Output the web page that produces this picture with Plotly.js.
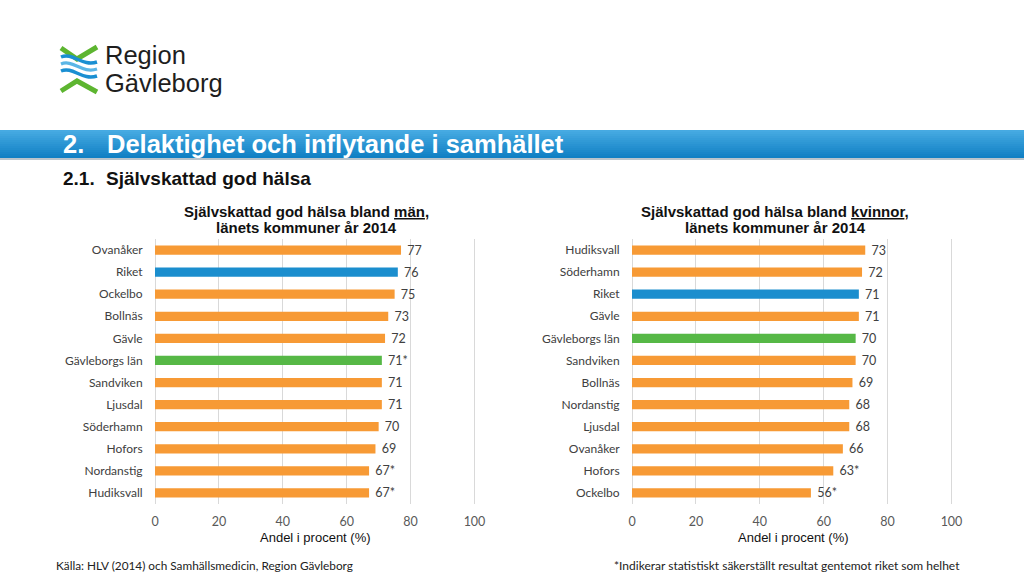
<!DOCTYPE html>
<html><head><meta charset="utf-8">
<script src="https://cdn.plot.ly/plotly-3.0.1.min.js"></script>
<style>html,body{margin:0;padding:0;background:#fff}#chart{width:1024px;height:576px}</style>
</head><body><div id="chart"></div>
<script>
// ---- data ----
const menCategories = ["Ovanåker","Riket","Ockelbo","Bollnäs","Gävle","Gävleborgs län","Sandviken","Ljusdal","Söderhamn","Hofors","Nordanstig","Hudiksvall"];
const menValues = [77,76,75,73,72,71,71,71,70,69,67,67];
const menLabels = ["77","76","75","73","72","71*","71","71","70","69","67*","67*"];

const womenCategories = ["Hudiksvall","Söderhamn","Riket","Gävle","Gävleborgs län","Sandviken","Bollnäs","Nordanstig","Ljusdal","Ovanåker","Hofors","Ockelbo"];
const womenValues = [73,72,71,71,70,70,69,68,68,66,63,56];
const womenLabels = ["73","72","71","71","70","70","69","68","68","66","63*","56*"];

const xTickStep = 20;

// ---- styling ----
const ORANGE = "#F79A35", BLUE = "#1B8ECE", GREEN = "#56B846";
function barColor(c){ return c === "Riket" ? BLUE : (c === "Gävleborgs län" ? GREEN : ORANGE); }
const W = 1024, H = 576;
const px = x => x / W, py = y => 1 - y / H;

const labelFont = {family: "Lato, 'Open Sans', sans-serif", size: 12.5, color: "#404040"};

function barTrace(cats, vals, labels, xa, ya){
  return {
    type: "bar", orientation: "h", y: cats, x: vals, text: labels,
    texttemplate: "\u00a0%{text}",
    textposition: "outside", cliponaxis: false, constraintext: "none",
    textfont: labelFont,
    marker: {color: cats.map(barColor)},
    xaxis: xa, yaxis: ya, hoverinfo: "skip"
  };
}

const traces = [
  barTrace(menCategories, menValues, menLabels, "x", "y"),
  barTrace(womenCategories, womenValues, womenLabels, "x2", "y2")
];

const PXU = 3.195; // pixels per unit
const XMAX = 103;
function xAxis(x0){
  return {domain: [px(x0), px(x0 + PXU*XMAX)], range: [0, XMAX], tickmode: "linear", tick0: 0, dtick: xTickStep,
    showgrid: true, gridcolor: "#D9D9D9", gridwidth: 1,
    zeroline: true, zerolinecolor: "#D9D9D9", zerolinewidth: 1, showline: false,
    ticks: "outside", ticklen: 6, tickcolor: "rgba(0,0,0,0)",
    tickfont: {family: "Lato, 'Open Sans', sans-serif", size: 12.5, color: "#595959"}, fixedrange: true};
}
function yAxis(d, anchor){
  return {domain: d, anchor: anchor, type: "category", autorange: "reversed", showgrid: false, zeroline: false, showline: false,
    ticks: "outside", ticklen: 9, tickcolor: "rgba(0,0,0,0)", tickfont: {family: "Lato, 'Open Sans', sans-serif", size: 12, color: "#404040"}, fixedrange: true};
}

const yDom = [py(504), py(239)];

// header gradient bands
const shapes = [];
const bandTop = 130, bandBot = 158;
const c1 = [70,170,226], c2 = [16,128,196];
const steps = 14;
for (let i = 0; i < steps; i++){
  const t = i/(steps-1);
  const c = c1.map((v,k)=>Math.round(v + (c2[k]-v)*t));
  const y0 = bandTop + (bandBot-bandTop)*i/steps, y1 = bandTop + (bandBot-bandTop)*(i+1)/steps + 0.5;
  shapes.push({type:"rect", xref:"paper", yref:"paper", x0:0, x1:1, y0:py(y1), y1:py(y0), line:{width:0}, fillcolor:`rgb(${c.join(",")})`, layer:"below"});
}
shapes.push({type:"rect", xref:"paper", yref:"paper", x0:0, x1:1, y0:py(160), y1:py(158), line:{width:0}, fillcolor:"#B8C4CC", layer:"below"});

// logo symbol
function pathFrom(pts, closed){
  return pts.map((p,i)=>(i?"L":"M")+px(p[0]).toFixed(5)+","+py(p[1]).toFixed(5)).join(" ") + (closed?" Z":"");
}
function curve(pts){
  let s = "M"+px(pts[0][0]).toFixed(5)+","+py(pts[0][1]).toFixed(5);
  for (let i=1;i<pts.length;i+=3){
    s += " C"+[pts[i],pts[i+1],pts[i+2]].map(p=>px(p[0]).toFixed(5)+","+py(p[1]).toFixed(5)).join(" ");
  }
  return s;
}
const LG = "#5DB530", LB1 = "#1A8FD2", LB2 = "#5BB6E6";
shapes.push({type:"path", xref:"paper", yref:"paper", path: pathFrom([[61,48],[77,59],[97,47]]), line:{color:LG, width:5}});
shapes.push({type:"path", xref:"paper", yref:"paper", path: pathFrom([[61,91],[77,81],[97,92]]), line:{color:LG, width:5}});
shapes.push({type:"path", xref:"paper", yref:"paper", path: curve([[61,57],[73,52],[82,67],[97,62]]), line:{color:LB1, width:3.5}});
shapes.push({type:"path", xref:"paper", yref:"paper", path: curve([[61,64],[73,59],[82,74],[97,69]]), line:{color:LB2, width:3.2}});
shapes.push({type:"path", xref:"paper", yref:"paper", path: curve([[61,71],[73,66],[82,81],[97,76]]), line:{color:LB1, width:3.5}});

const ARIAL = "'Liberation Sans', Arial, sans-serif";
function ann(text, x, y, opts){
  return Object.assign({text, x: px(x), y: py(y), xref:"paper", yref:"paper", showarrow:false, xanchor:"left", yanchor:"middle",
    font:{family: ARIAL, size: 12, color:"#000"}}, opts || {});
}
const annotations = [
  ann("Region", 103, 55, {font:{family:ARIAL, size:25.5, color:"#1E1E1E"}}),
  ann("Gävleborg", 103, 83, {font:{family:ARIAL, size:25.5, color:"#1E1E1E"}}),
  ann("<b>2.</b>", 61, 144, {font:{family:ARIAL, size:25.5, color:"#FFFFFF"}}),
  ann("<b>Delaktighet och inflytande i samhället</b>", 105, 144, {font:{family:ARIAL, size:25.5, color:"#FFFFFF"}}),
  ann("<b>2.1.</b>", 61, 178, {font:{family:ARIAL, size:19, color:"#111"}}),
  ann("<b>Självskattad god hälsa</b>", 104, 178, {font:{family:ARIAL, size:19, color:"#111"}}),
  ann("<b>Självskattad god hälsa bland <u>män</u>,</b>", 306, 211, {xanchor:"center", font:{family:ARIAL, size:15, color:"#111"}}),
  ann("<b>länets kommuner år 2014</b>", 306, 228, {xanchor:"center", font:{family:ARIAL, size:15, color:"#111"}}),
  ann("<b>Självskattad god hälsa bland <u>kvinnor</u>,</b>", 775, 211, {xanchor:"center", font:{family:ARIAL, size:15, color:"#111"}}),
  ann("<b>länets kommuner år 2014</b>", 775, 228, {xanchor:"center", font:{family:ARIAL, size:15, color:"#111"}}),
  ann("Andel i procent (%)", 315, 537, {xanchor:"center", font:{family:ARIAL, size:13, color:"#111"}}),
  ann("Andel i procent (%)", 793, 537, {xanchor:"center", font:{family:ARIAL, size:13, color:"#111"}}),
  ann("Källa: HLV (2014) och Samhällsmedicin, Region Gävleborg", 54, 565, {font:{family:"Lato, sans-serif", size:11.8, color:"#222"}}),
  ann("*Indikerar statistiskt säkerställt resultat gentemot riket som helhet", 962, 565, {xanchor:"right", font:{family:"Lato, sans-serif", size:12, color:"#222"}})
];

const layout = {
  width: W, height: H, margin: {l:0, r:0, t:0, b:0},
  paper_bgcolor: "#FFFFFF", plot_bgcolor: "rgba(0,0,0,0)",
  showlegend: false, bargap: 0.58,
  xaxis: Object.assign(xAxis(155), {anchor:"y"}),
  yaxis: yAxis(yDom, "x"),
  xaxis2: Object.assign(xAxis(632), {anchor:"y2"}),
  yaxis2: yAxis(yDom, "x2"),
  shapes, annotations
};

Plotly.newPlot("chart", traces, layout, {displayModeBar: false, staticPlot: true});
</script></body></html>
